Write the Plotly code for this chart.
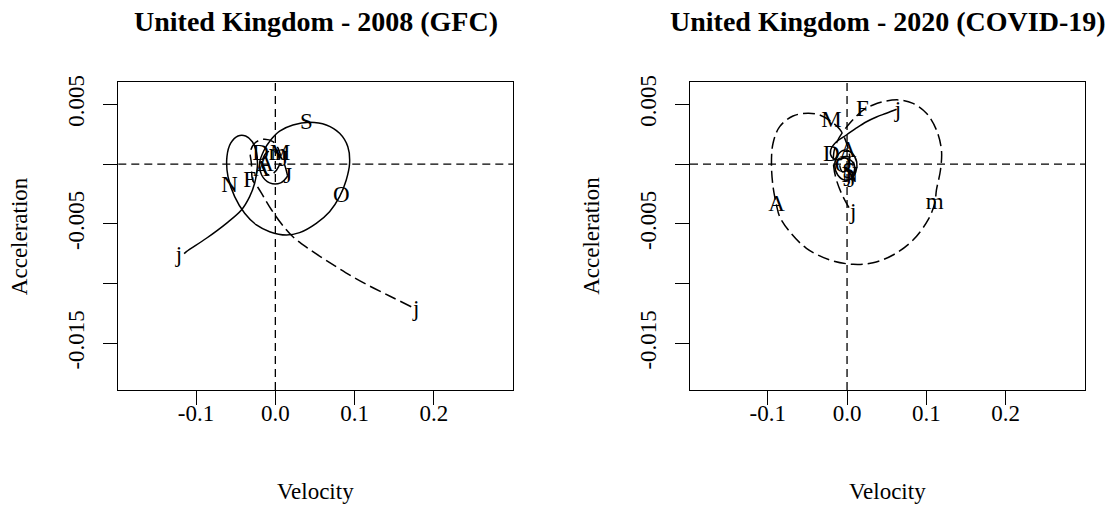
import plotly.graph_objects as go

# Month letters placed along each phase-plane curve (Jan ... Dec, next Jan)
month_labels = ["j", "F", "m", "A", "M", "J", "J", "A", "S", "O", "N", "D", "j"]

# ---- United Kingdom 2008 (GFC): velocity / acceleration ----
# first half of the year (Jan -> Jul), long-dashed
gfc_first_vel = [0.1713, 0.1440, 0.1162, 0.0885, 0.0634, 0.0407, 0.0218, 0.0079, -0.0047,
                 -0.0147, -0.0223, -0.0286, -0.0302, -0.0315, -0.0261, -0.0156, -0.0030, 0.0045,
                 0.0067, 0.0016, -0.0072, -0.0147, -0.0160, -0.0097, 0.0004, 0.0092, 0.0155]
gfc_first_acc = [-0.01194, -0.01104, -0.01012, -0.00908, -0.00803, -0.00703, -0.00606, -0.00502,
                 -0.00385, -0.00276, -0.00192, -0.00134, 0.00006, 0.00103, 0.00174, 0.00207,
                 0.00187, 0.00118, 0.00034, -0.00050, -0.00092, -0.00050, 0.00034, 0.00101,
                 0.00101, 0.00034, -0.00100]
# second half of the year (Jul -> Jan), solid
gfc_second_vel = [0.0155, 0.0067, -0.0072, -0.0173, -0.0198, -0.0147, -0.0059, 0.0054, 0.0222,
                  0.0432, 0.0642, 0.0810, 0.0914, 0.0936, 0.0894, 0.0810, 0.0684, 0.0516, 0.0306,
                  0.0139, -0.0072, -0.0239, -0.0387, -0.0513, -0.0597, -0.0610, -0.0563, -0.0471,
                  -0.0374, -0.0290, -0.0239, -0.0227, -0.0261, -0.0324, -0.0428, -0.0617,
                  -0.0869, -0.1121, -0.1150]
gfc_second_acc = [-0.00100, -0.00158, -0.00158, -0.00092, 0.00009, 0.00109, 0.00201, 0.00276,
                  0.00327, 0.00349, 0.00327, 0.00257, 0.00145, 0.00006, -0.00133, -0.00273,
                  -0.00399, -0.00496, -0.00574, -0.00594, -0.00566, -0.00510, -0.00412, -0.00273,
                  -0.00106, 0.00062, 0.00174, 0.00235, 0.00235, 0.00187, 0.00103, -0.00022,
                  -0.00161, -0.00273, -0.00385, -0.00496, -0.00621, -0.00733, -0.00750]
gfc_label_vel = [0.1776, -0.0324, 0.0030, -0.0173, 0.0060, 0.0105, 0.0155, -0.0122, 0.0390,
                 0.0831, -0.0576, -0.0185, -0.1214]
gfc_label_acc = [-0.01221, -0.00148, 0.00080, -0.00050, 0.00085, 0.00030, -0.00108, -0.00008,
                 0.00341, -0.00273, -0.00190, 0.00085, -0.00775]

# ---- United Kingdom 2020 (COVID-19): velocity / acceleration ----
covid_first_vel = [0.0025, -0.0008, -0.0071, -0.0134, -0.0168, -0.0168, -0.0126, -0.0050, 0.0034,
                   0.0119, 0.0194, 0.0328, 0.0497, 0.0665, 0.0832, 0.1001, 0.1127, 0.1190,
                   0.1178, 0.1127, 0.1106, 0.1021, 0.0832, 0.0580, 0.0328, 0.0076, -0.0218,
                   -0.0512, -0.0723, -0.0849, -0.0890, -0.0933, -0.0953, -0.0933, -0.0849,
                   -0.0681, -0.0492, -0.0344, -0.0197, -0.0092, -0.0029, 0.0013, 0.0034, 0.0009,
                   -0.0054, -0.0092, -0.0054, 0.0047, 0.0097, 0.0047]
covid_first_acc = [-0.00365, -0.00328, -0.00245, -0.00133, -0.00022, 0.00090, 0.00187, 0.00271,
                   0.00341, 0.00402, 0.00446, 0.00494, 0.00528, 0.00536, 0.00508, 0.00425,
                   0.00285, 0.00118, -0.00050, -0.00217, -0.00328, -0.00468, -0.00636, -0.00761,
                   -0.00826, -0.00839, -0.00803, -0.00705, -0.00566, -0.00441, -0.00343,
                   -0.00190, 0.00006, 0.00174, 0.00313, 0.00402, 0.00425, 0.00410, 0.00354,
                   0.00291, 0.00215, 0.00132, 0.00051, -0.00033, -0.00067, -0.00008, 0.00059,
                   0.00051, -0.00033, -0.00134]
covid_second_vel = [0.0047, 0.0110, 0.0122, 0.0059, -0.0029, -0.0117, -0.0155, -0.0117, -0.0029,
                    0.0059, 0.0097, 0.0059, -0.0029, -0.0117, -0.0193, -0.0206, -0.0134, -0.0008,
                    0.0119, 0.0245, 0.0371, 0.0497, 0.0625]
covid_second_acc = [-0.00134, -0.00067, 0.00017, 0.00093, 0.00118, 0.00076, -0.00008, -0.00092,
                    -0.00134, -0.00117, -0.00050, 0.00025, 0.00051, 0.00034, 0.00059, 0.00118,
                    0.00187, 0.00243, 0.00302, 0.00354, 0.00394, 0.00425, 0.00458]
covid_label_vel = [0.0076, 0.0194, 0.1106, -0.0890, -0.0197, 0.0009, 0.0055, 0.0013, 0.0021,
                   -0.0050, 0.0034, -0.0197, 0.0643]
covid_label_acc = [-0.00412, 0.00446, -0.00328, -0.00343, 0.00354, -0.00133, -0.00142, 0.00103,
                   -0.00067, -0.00022, -0.00106, 0.00076, 0.00438]

# Axis ticks
x_tickvals = [-0.1, 0.0, 0.1, 0.2]
x_ticktext = ["-0.1", "0.0", "0.1", "0.2"]
y_tickvals = [0.005, 0.0, -0.005, -0.010, -0.015]
y_ticktext = ["0.005", "", "-0.005", "", "-0.015"]

panel_titles = ["United Kingdom - 2008 (GFC)", "United Kingdom - 2020 (COVID-19)"]

SERIF = "Liberation Serif"
W, H = 1118, 506
LINE_W = 1.5

fig = go.Figure()

panels = [
    ("x", "y", gfc_first_vel, gfc_first_acc, gfc_second_vel, gfc_second_acc,
     gfc_label_vel, gfc_label_acc),
    ("x2", "y2", covid_first_vel, covid_first_acc, covid_second_vel, covid_second_acc,
     covid_label_vel, covid_label_acc),
]

for xa, ya, v1, a1, v2, a2, lv, la in panels:
    fig.add_trace(go.Scatter(x=v1, y=a1, mode="lines", xaxis=xa, yaxis=ya,
                             line=dict(color="black", width=LINE_W, dash="12px,5px",
                                       shape="spline", smoothing=1.0),
                             showlegend=False, hoverinfo="skip"))
    fig.add_trace(go.Scatter(x=v2, y=a2, mode="lines", xaxis=xa, yaxis=ya,
                             line=dict(color="black", width=LINE_W, shape="spline",
                                       smoothing=1.0),
                             showlegend=False, hoverinfo="skip"))
    fig.add_trace(go.Scatter(x=lv, y=la, mode="text", text=month_labels, xaxis=xa, yaxis=ya,
                             textposition="middle center",
                             textfont=dict(family=SERIF, size=23, color="black"),
                             showlegend=False, hoverinfo="skip"))

# plot-region edges in pixels
left_dom = [118.3 / W, 513.3 / W]
right_dom = [690.0 / W, 1085.0 / W]
y_dom = [1 - 390.0 / H, 1 - 81.7 / H]

axis_common = dict(showline=True, mirror=True, linecolor="black", linewidth=1.3,
                   ticks="outside", ticklen=14, tickwidth=1.3, tickcolor="black",
                   showgrid=False, zeroline=False, automargin=False,
                   tickfont=dict(family=SERIF, size=23, color="black"))

xcommon = dict(axis_common, range=[-0.198, 0.300], tickmode="array",
               tickvals=x_tickvals, ticktext=x_ticktext, ticklabelstandoff=-12)
ycommon = dict(axis_common, range=[-0.01891, 0.00689], tickmode="array",
               tickvals=y_tickvals, ticktext=y_ticktext, tickangle=-90,
               ticklabelstandoff=10)

fig.update_layout(
    width=W, height=H,
    margin=dict(l=0, r=0, t=0, b=0, autoexpand=False),
    paper_bgcolor="white", plot_bgcolor="white",
    xaxis=dict(xcommon, domain=left_dom, anchor="y"),
    yaxis=dict(ycommon, domain=y_dom, anchor="x"),
    xaxis2=dict(xcommon, domain=right_dom, anchor="y2"),
    yaxis2=dict(ycommon, domain=y_dom, anchor="x2"),
)

# dashed reference lines through the origin
shapes = []
for xa, ya in [("x", "y"), ("x2", "y2")]:
    shapes.append(dict(type="line", xref=xa, yref=f"{ya} domain", x0=0, x1=0, y0=0, y1=1,
                       line=dict(color="black", width=1.3, dash="8px,5px")))
    shapes.append(dict(type="line", xref=f"{xa} domain", yref=ya, x0=0, x1=1, y0=0, y1=0,
                       line=dict(color="black", width=1.3, dash="8px,5px")))
fig.update_layout(shapes=shapes)

annotations = []
for i, (xa, ya) in enumerate([("x", "y"), ("x2", "y2")]):
    annotations.append(dict(text=f"<b>{panel_titles[i]}</b>", xref=f"{xa} domain", yref="paper",
                            x=0.5, y=1 - 22 / H, xanchor="center", yanchor="middle",
                            showarrow=False, font=dict(family=SERIF, size=28, color="black")))
    annotations.append(dict(text="Velocity", xref=f"{xa} domain", yref="paper",
                            x=0.5, y=1 - 491 / H, xanchor="center", yanchor="middle",
                            showarrow=False, font=dict(family=SERIF, size=23, color="black")))
    xdom = left_dom if i == 0 else right_dom
    annotations.append(dict(text="Acceleration", xref="paper", yref=f"{ya} domain",
                            x=xdom[0] - 98 / W, y=0.5, xanchor="center", yanchor="middle",
                            textangle=-90, showarrow=False,
                            font=dict(family=SERIF, size=23, color="black")))
fig.update_layout(annotations=annotations)

fig.write_html("out.html")
